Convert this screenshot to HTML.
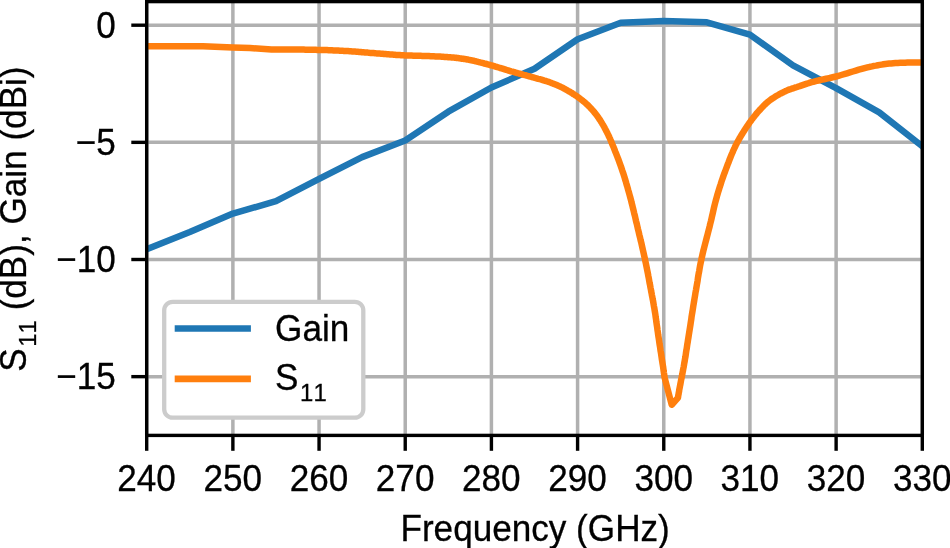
<!DOCTYPE html>
<html><head><meta charset="utf-8"><title>S11 and Gain vs Frequency</title>
<style>
html,body{margin:0;padding:0;background:#fff;}
svg{display:block;}
text{font-family:"Liberation Sans",sans-serif;fill:#000;font-kerning:none;}
</style></head><body>
<svg width="950" height="548" viewBox="0 0 950 548">
<rect width="950" height="548" fill="#fff"/>
<defs><clipPath id="ax"><rect x="146.7" y="1.6" width="775.6" height="433.8"/></clipPath></defs>

<g stroke="#b0b0b0" stroke-width="3.5" fill="none">
<line x1="146.70" y1="1.6" x2="146.70" y2="435.4"/>
<line x1="232.88" y1="1.6" x2="232.88" y2="435.4"/>
<line x1="319.06" y1="1.6" x2="319.06" y2="435.4"/>
<line x1="405.23" y1="1.6" x2="405.23" y2="435.4"/>
<line x1="491.41" y1="1.6" x2="491.41" y2="435.4"/>
<line x1="577.59" y1="1.6" x2="577.59" y2="435.4"/>
<line x1="663.77" y1="1.6" x2="663.77" y2="435.4"/>
<line x1="749.94" y1="1.6" x2="749.94" y2="435.4"/>
<line x1="836.12" y1="1.6" x2="836.12" y2="435.4"/>
<line x1="922.30" y1="1.6" x2="922.30" y2="435.4"/>
<line x1="146.7" y1="25.20" x2="922.3" y2="25.20"/>
<line x1="146.7" y1="142.35" x2="922.3" y2="142.35"/>
<line x1="146.7" y1="259.50" x2="922.3" y2="259.50"/>
<line x1="146.7" y1="376.65" x2="922.3" y2="376.65"/>
</g>
<g clip-path="url(#ax)" fill="none" stroke-width="6.5" stroke-linejoin="round" stroke-linecap="square">
<polyline stroke="#1f77b4" points="146.7,249.2 189.8,232.1 232.9,213.6 276.0,201.2 319.1,178.9 362.1,157.1 405.2,140.5 448.3,111.7 491.4,87.5 534.5,68.8 577.6,39.3 620.7,22.7 663.8,21.1 706.9,22.3 749.9,34.6 793.0,65.3 836.1,88.2 879.2,112.4 922.3,146.3"/>
<polyline stroke="#ff7f0e" points="146.7,46.2 203.0,46.3 232.8,47.5 250.0,48.1 271.5,49.4 273.9,49.4 276.4,49.4 278.9,49.4 281.4,49.5 283.9,49.5 286.4,49.5 288.9,49.5 291.3,49.5 293.7,49.5 296.1,49.6 298.3,49.6 300.5,49.6 302.2,49.6 303.8,49.6 305.4,49.7 306.9,49.7 308.4,49.7 309.9,49.7 311.3,49.7 312.8,49.8 314.3,49.8 315.8,49.8 317.3,49.9 318.8,49.9 320.4,49.9 322.0,50.0 323.7,50.0 325.3,50.1 327.0,50.1 328.7,50.2 330.3,50.3 332.0,50.3 333.6,50.4 335.2,50.5 336.8,50.5 338.4,50.6 339.8,50.7 341.2,50.7 342.6,50.8 344.0,50.9 345.4,51.0 346.8,51.1 348.1,51.1 349.5,51.2 350.9,51.3 352.2,51.4 353.6,51.5 355.0,51.6 356.4,51.7 357.8,51.8 359.2,51.9 360.6,52.0 362.0,52.2 363.5,52.3 364.9,52.4 366.3,52.5 367.7,52.6 369.1,52.8 370.6,52.9 372.0,53.0 373.5,53.1 375.0,53.2 376.5,53.4 378.0,53.5 379.5,53.6 381.1,53.7 382.6,53.8 384.1,54.0 385.6,54.1 387.1,54.2 388.6,54.3 390.0,54.4 391.3,54.5 392.5,54.6 393.8,54.7 395.0,54.8 396.2,54.9 397.4,54.9 398.6,55.0 399.8,55.1 401.0,55.2 402.3,55.3 403.6,55.3 404.9,55.4 406.5,55.5 408.2,55.5 409.9,55.6 411.6,55.6 413.4,55.7 415.2,55.7 417.0,55.8 418.8,55.8 420.6,55.8 422.3,55.9 424.1,55.9 425.8,56.0 427.4,56.1 429.0,56.1 430.7,56.2 432.3,56.3 433.9,56.3 435.5,56.4 437.1,56.5 438.7,56.5 440.2,56.6 441.8,56.7 443.2,56.8 444.7,56.9 445.9,57.0 447.1,57.1 448.2,57.2 449.3,57.2 450.4,57.3 451.5,57.4 452.6,57.5 453.7,57.6 454.8,57.7 455.9,57.8 456.9,58.0 458.0,58.1 459.0,58.2 460.1,58.4 461.1,58.5 462.1,58.7 463.2,58.8 464.2,59.0 465.2,59.1 466.2,59.3 467.2,59.5 468.2,59.6 469.1,59.8 470.0,60.0 470.7,60.1 471.4,60.3 472.1,60.4 472.7,60.6 473.4,60.7 474.0,60.9 474.6,61.0 475.3,61.2 475.9,61.4 476.6,61.5 477.3,61.7 478.0,61.9 479.0,62.1 480.0,62.4 481.0,62.6 482.1,62.9 483.2,63.2 484.3,63.5 485.4,63.7 486.5,64.0 487.7,64.3 488.8,64.7 490.0,65.0 491.2,65.3 492.6,65.7 494.1,66.1 495.6,66.6 497.1,67.0 498.6,67.5 500.1,68.0 501.7,68.4 503.3,68.9 504.8,69.4 506.4,69.9 508.0,70.3 509.5,70.8 511.1,71.3 512.6,71.7 514.2,72.1 515.8,72.6 517.3,73.0 518.9,73.5 520.5,73.9 522.1,74.3 523.7,74.8 525.2,75.2 526.8,75.7 528.4,76.1 530.0,76.5 531.6,77.0 533.2,77.4 534.9,77.9 536.5,78.3 538.2,78.8 539.8,79.2 541.4,79.6 542.9,80.1 544.5,80.6 546.0,81.0 547.4,81.5 548.6,81.9 549.7,82.3 550.8,82.7 551.9,83.1 553.0,83.6 554.1,84.0 555.2,84.4 556.2,84.8 557.2,85.2 558.1,85.7 559.1,86.1 560.0,86.5 560.7,86.8 561.3,87.1 561.9,87.4 562.5,87.7 563.1,88.0 563.7,88.3 564.2,88.6 564.8,88.9 565.4,89.3 566.0,89.6 566.6,89.9 567.2,90.3 568.0,90.8 568.8,91.2 569.6,91.7 570.5,92.2 571.3,92.7 572.2,93.2 573.0,93.8 573.9,94.3 574.8,94.9 575.6,95.4 576.5,96.0 577.3,96.6 578.2,97.2 579.0,97.9 579.9,98.5 580.8,99.2 581.6,99.8 582.5,100.5 583.3,101.2 584.2,101.9 585.0,102.6 585.8,103.3 586.6,104.1 587.4,104.8 588.2,105.5 588.9,106.3 589.6,107.0 590.4,107.8 591.1,108.6 591.8,109.3 592.5,110.1 593.2,110.9 593.9,111.7 594.5,112.5 595.2,113.3 595.8,114.1 596.4,114.9 597.0,115.6 597.5,116.4 598.1,117.2 598.6,117.9 599.1,118.7 599.6,119.5 600.2,120.3 600.7,121.1 601.1,121.8 601.6,122.6 602.1,123.4 602.5,124.1 603.0,124.8 603.4,125.5 603.8,126.3 604.2,127.0 604.6,127.7 604.9,128.4 605.3,129.1 605.7,129.8 606.1,130.5 606.4,131.3 606.8,132.0 607.2,132.7 607.5,133.4 607.9,134.1 608.2,134.8 608.5,135.5 608.8,136.2 609.2,136.9 609.5,137.6 609.9,138.4 610.2,139.2 610.6,140.1 611.0,141.0 611.7,142.8 612.5,144.7 613.4,146.8 614.3,149.0 615.2,151.4 616.2,153.8 617.1,156.2 618.1,158.7 619.0,161.2 619.9,163.7 620.8,166.1 621.6,168.4 622.3,170.6 623.1,172.8 623.8,175.0 624.5,177.2 625.1,179.4 625.8,181.5 626.4,183.7 627.1,186.0 627.7,188.2 628.3,190.4 629.0,192.7 629.6,195.0 630.3,197.5 631.0,200.1 631.6,202.7 632.3,205.3 632.9,207.9 633.6,210.6 634.2,213.3 634.9,215.9 635.5,218.6 636.1,221.3 636.8,223.9 637.4,226.6 638.0,229.3 638.7,232.0 639.3,234.7 640.0,237.4 640.6,240.1 641.3,242.8 641.9,245.5 642.5,248.2 643.1,250.9 643.7,253.5 644.3,256.2 644.9,258.8 645.4,261.3 645.9,263.7 646.4,266.2 646.9,268.6 647.4,271.1 647.9,273.5 648.3,275.9 648.8,278.3 649.2,280.7 649.6,283.0 650.1,285.3 650.5,287.6 650.9,289.6 651.2,291.5 651.6,293.3 651.9,295.1 652.3,297.0 652.6,298.8 653.0,300.6 653.3,302.4 653.6,304.2 653.9,306.1 654.3,308.0 654.6,310.0 655.0,312.4 655.4,314.8 655.7,317.3 656.1,319.8 656.4,322.3 656.8,324.9 657.2,327.5 657.5,330.0 657.9,332.6 658.2,335.1 658.6,337.6 659.0,340.0 659.3,342.2 659.6,344.4 660.0,346.6 660.3,348.8 660.6,351.0 661.0,353.1 661.3,355.3 661.6,357.4 661.9,359.4 662.2,361.3 662.5,363.2 662.8,365.0 663.0,366.2 663.2,367.4 663.3,368.5 663.5,369.6 663.6,370.7 663.8,371.8 663.9,372.8 664.1,373.8 664.2,374.8 664.4,375.9 664.5,376.9 664.7,378.0 671.7,404.8 677.9,397.8 678.1,396.8 678.2,395.9 678.4,394.9 678.6,394.0 678.7,393.1 678.9,392.1 679.1,391.2 679.2,390.2 679.4,389.2 679.6,388.2 679.8,387.1 680.0,386.0 680.3,384.5 680.6,382.9 680.9,381.2 681.2,379.5 681.6,377.8 681.9,376.0 682.3,374.2 682.6,372.4 683.0,370.5 683.3,368.7 683.7,366.8 684.0,365.0 684.3,363.0 684.7,361.0 685.0,359.0 685.4,356.9 685.7,354.9 686.0,352.8 686.3,350.7 686.7,348.6 687.0,346.5 687.3,344.3 687.7,342.2 688.0,340.0 688.4,337.6 688.8,335.1 689.2,332.6 689.6,330.0 690.0,327.5 690.4,324.9 690.8,322.3 691.2,319.8 691.5,317.3 691.9,314.8 692.3,312.4 692.7,310.0 693.0,308.0 693.3,306.1 693.6,304.2 693.9,302.4 694.2,300.6 694.5,298.8 694.8,297.0 695.1,295.2 695.4,293.3 695.7,291.5 696.1,289.6 696.4,287.6 696.8,285.3 697.2,283.0 697.6,280.7 697.9,278.3 698.3,275.9 698.7,273.5 699.2,271.1 699.6,268.6 700.0,266.2 700.5,263.7 701.0,261.3 701.5,258.8 702.1,256.2 702.7,253.5 703.3,250.9 704.0,248.2 704.7,245.5 705.4,242.8 706.1,240.1 706.8,237.4 707.5,234.7 708.2,232.0 708.9,229.3 709.6,226.6 710.2,224.0 710.9,221.3 711.5,218.7 712.1,216.0 712.7,213.4 713.3,210.7 713.9,208.1 714.5,205.5 715.2,202.8 715.9,200.2 716.6,197.6 717.3,195.0 718.1,192.4 718.9,189.8 719.7,187.1 720.6,184.5 721.4,181.8 722.3,179.2 723.2,176.6 724.1,174.0 725.1,171.5 726.0,169.0 726.9,166.6 727.8,164.2 728.6,162.2 729.3,160.3 730.1,158.3 730.8,156.5 731.6,154.6 732.4,152.8 733.1,151.0 733.9,149.2 734.8,147.4 735.6,145.6 736.5,143.9 737.4,142.1 738.4,140.3 739.4,138.5 740.4,136.8 741.5,135.0 742.6,133.2 743.7,131.5 744.8,129.7 745.9,128.0 747.0,126.4 748.1,124.8 749.2,123.2 750.3,121.7 751.2,120.5 752.0,119.3 752.9,118.2 753.7,117.1 754.6,116.0 755.4,115.0 756.3,113.9 757.1,112.9 758.0,111.9 758.9,110.9 759.7,110.0 760.6,109.0 761.4,108.2 762.2,107.3 763.0,106.5 763.7,105.7 764.5,104.9 765.3,104.2 766.1,103.4 766.9,102.7 767.8,101.9 768.7,101.2 769.6,100.5 770.5,99.8 771.6,99.0 772.8,98.2 774.1,97.4 775.4,96.6 776.7,95.8 778.1,95.0 779.4,94.2 780.7,93.5 782.1,92.8 783.4,92.2 784.6,91.6 785.8,91.0 786.7,90.6 787.5,90.2 788.3,89.9 789.1,89.6 789.9,89.3 790.7,89.1 791.5,88.8 792.3,88.5 793.1,88.3 794.0,88.0 794.9,87.7 795.8,87.4 797.1,87.0 798.4,86.5 799.7,86.1 801.1,85.6 802.6,85.1 804.0,84.6 805.5,84.1 807.0,83.6 808.6,83.2 810.1,82.7 811.6,82.2 813.2,81.8 815.0,81.3 816.7,80.9 818.5,80.5 820.4,80.0 822.2,79.6 824.1,79.2 826.0,78.8 827.9,78.4 829.8,78.0 831.8,77.5 833.8,77.0 835.9,76.5 838.5,75.8 841.3,75.0 844.1,74.2 847.0,73.3 849.9,72.4 852.9,71.5 855.9,70.6 858.8,69.7 861.8,68.9 864.6,68.1 867.4,67.4 870.0,66.8 872.1,66.4 874.1,65.9 876.0,65.6 877.9,65.2 879.8,64.9 881.7,64.6 883.5,64.3 885.4,64.0 887.3,63.8 889.2,63.6 891.2,63.4 893.2,63.2 895.5,63.0 897.9,62.9 900.2,62.8 902.6,62.7 905.1,62.7 907.5,62.6 910.0,62.6 912.5,62.6 914.9,62.6 917.4,62.6 919.9,62.5 922.3,62.5"/>
</g>
<g stroke="#000" stroke-width="3.4" fill="none">
<line x1="146.70" y1="435.4" x2="146.70" y2="450.79999999999995"/>
<line x1="232.88" y1="435.4" x2="232.88" y2="450.79999999999995"/>
<line x1="319.06" y1="435.4" x2="319.06" y2="450.79999999999995"/>
<line x1="405.23" y1="435.4" x2="405.23" y2="450.79999999999995"/>
<line x1="491.41" y1="435.4" x2="491.41" y2="450.79999999999995"/>
<line x1="577.59" y1="435.4" x2="577.59" y2="450.79999999999995"/>
<line x1="663.77" y1="435.4" x2="663.77" y2="450.79999999999995"/>
<line x1="749.94" y1="435.4" x2="749.94" y2="450.79999999999995"/>
<line x1="836.12" y1="435.4" x2="836.12" y2="450.79999999999995"/>
<line x1="922.30" y1="435.4" x2="922.30" y2="450.79999999999995"/>
<line x1="131.29999999999998" y1="25.20" x2="146.7" y2="25.20"/>
<line x1="131.29999999999998" y1="142.35" x2="146.7" y2="142.35"/>
<line x1="131.29999999999998" y1="259.50" x2="146.7" y2="259.50"/>
<line x1="131.29999999999998" y1="376.65" x2="146.7" y2="376.65"/>
<rect x="146.7" y="1.6" width="775.6" height="433.8" stroke-linejoin="miter"/>
</g>
<rect x="164.2" y="301.8" width="199.1" height="115.9" rx="8.5" ry="8.5" fill="#fff" stroke="#cccccc" stroke-width="4.3"/>
<line x1="174.7" y1="328.5" x2="250.9" y2="328.5" stroke="#1f77b4" stroke-width="6.7"/>
<line x1="174.7" y1="378.8" x2="250.9" y2="378.8" stroke="#ff7f0e" stroke-width="6.7"/>
<g font-size="35.3" stroke="#000" stroke-width="0.3" opacity="0.999">
<text transform="translate(146.60,490.50) scale(0.995,1.06)" text-anchor="middle">240</text>
<text transform="translate(232.78,490.50) scale(0.995,1.06)" text-anchor="middle">250</text>
<text transform="translate(318.96,490.50) scale(0.995,1.06)" text-anchor="middle">260</text>
<text transform="translate(405.13,490.50) scale(0.995,1.06)" text-anchor="middle">270</text>
<text transform="translate(491.31,490.50) scale(0.995,1.06)" text-anchor="middle">280</text>
<text transform="translate(577.49,490.50) scale(0.995,1.06)" text-anchor="middle">290</text>
<text transform="translate(663.67,490.50) scale(0.995,1.06)" text-anchor="middle">300</text>
<text transform="translate(749.84,490.50) scale(0.995,1.06)" text-anchor="middle">310</text>
<text transform="translate(836.02,490.50) scale(0.995,1.06)" text-anchor="middle">320</text>
<text transform="translate(922.20,490.50) scale(0.995,1.06)" text-anchor="middle">330</text>
<text transform="translate(115.70,37.80) scale(0.995,1.06)" text-anchor="end">0</text>
<text transform="translate(115.70,154.95) scale(0.995,1.06)" text-anchor="end">−5</text>
<text transform="translate(115.70,272.10) scale(0.995,1.06)" text-anchor="end">−10</text>
<text transform="translate(115.70,389.25) scale(0.995,1.06)" text-anchor="end">−15</text>
<text transform="translate(535.10,540.80) scale(0.995,1.035)" text-anchor="middle">Frequency (GHz)</text>
<text transform="translate(25.80,219.10) rotate(-90) scale(0.995,1.035)" text-anchor="middle">S<tspan font-size="24.00" dx="1.61" dy="9.95">11</tspan><tspan dy="-9.95"> (dB), Gain (dBi)</tspan></text>
<text transform="translate(275.10,340.80) scale(0.995,1.035)" text-anchor="start">Gain</text>
<text transform="translate(275.10,390.00) scale(0.995,1.035)" text-anchor="start">S<tspan font-size="24.00" dx="1.61" dy="10.24">11</tspan></text>
</g>
</svg></body></html>
